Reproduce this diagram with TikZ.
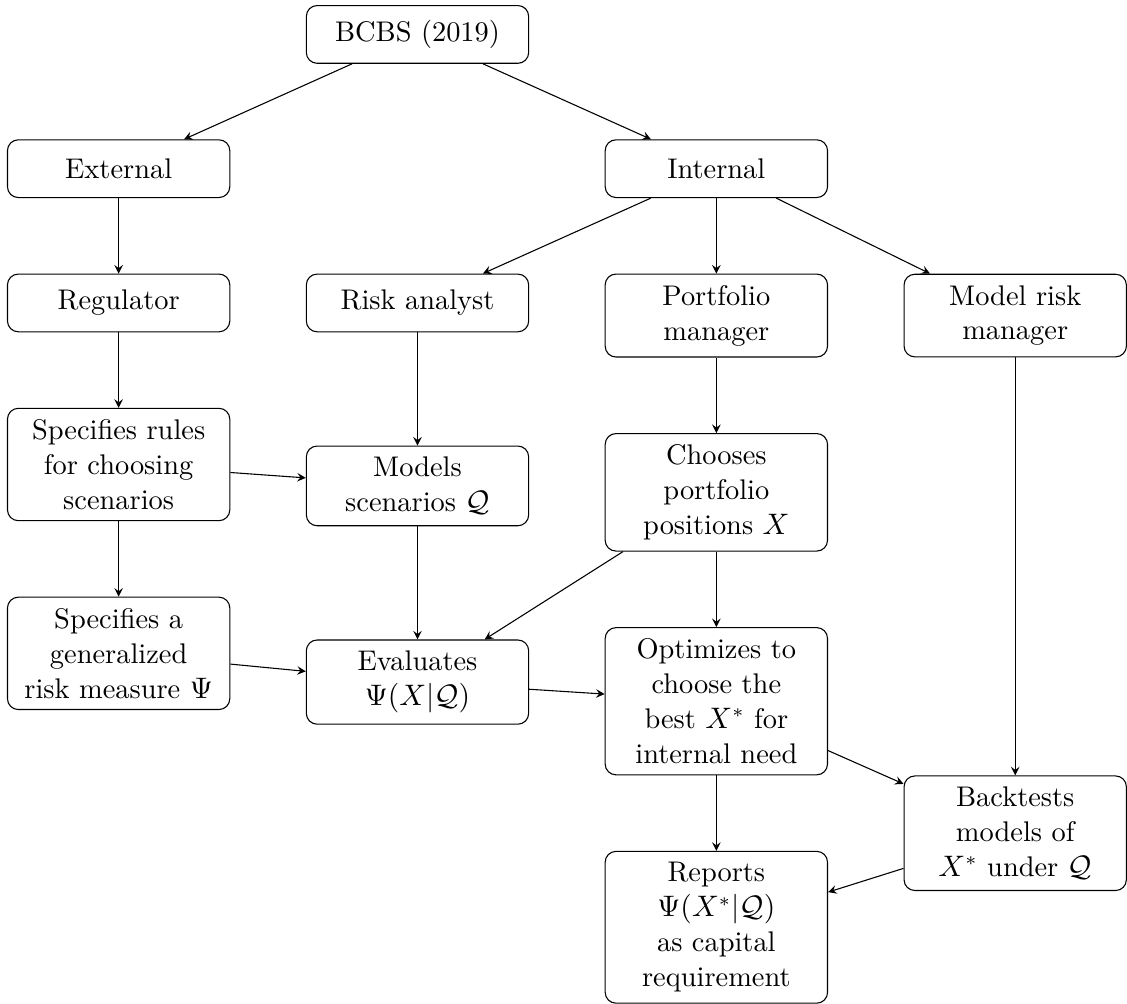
\documentclass[tikz,border=0pt]{standalone}
\usepackage{tikz}
\usetikzlibrary{calc,positioning,arrows}

\begin{document}
\begin{tikzpicture}[node distance=0.98cm, >=stealth,
		box/.style={draw, rounded corners, align=center, text width=2.6cm, inner sep=4.1pt, minimum height=0.75cm, font=\fontsize{10.5}{12.9}\selectfont}]
		%%%%% START %%%%%
		\node[box] (regulator) {Regulator};
		\node[box, right=of regulator] (analyst) {Risk analyst};
		\node[box, right=of analyst.north east, anchor=north west] (portfolio) {Portfolio\\manager};
		\node[box, right=of portfolio] (modelrisk) {Model risk\\manager};
		
		\node[box, above=of regulator] (external) {External};
		\node[box, above=of portfolio] (internal) {Internal};
		\node[box, anchor=south] (bcbs) at ($(analyst |- external.north)+(0,0.98)$) {BCBS (2019)};
		
		\node[box, below=of regulator] (rules) {Specifies rules\\for choosing\\scenarios};
		\node[box, below=1.47cm of analyst] (models) {Models\\scenarios $\mathcal{Q}$};
		\node[box, below=of portfolio] (chooses) {Chooses\\portfolio\\positions $X$};
		
		\node[box, below=of rules] (measure) {Specifies a\\generalized\\risk measure $\Psi$};
		\node[box, below=1.47cm of models] (evaluates) {Evaluates\\$\Psi(X|\mathcal{Q})$};
		\node[box, below=of chooses] (optimizes) {Optimizes to\\choose the\\best $X^*$ for\\internal need};
		\node[box, below=of optimizes] (reports) {Reports\\$\Psi(X^*|\mathcal{Q})$\\as capital\\requirement};
		\node[box, anchor=north] (backtests) at (modelrisk |- optimizes.south) {Backtests\\models of\\$X^*$ under $\mathcal{Q}$};
		
		\draw[->] (bcbs) -- (external);
		\draw[->] (bcbs) -- (internal);
		\draw[->] (external) -- (regulator);
		\draw[->] (internal) -- (analyst);
		\draw[->] (internal) -- (portfolio);
		\draw[->] (internal) -- (modelrisk);
		
		\draw[->] (regulator) -- (rules);
		\draw[->] (rules) -- (measure);
		\draw[->] (rules) -- (models);
		\draw[->] (analyst) -- (models);
		\draw[->] (portfolio) -- (chooses);
		\draw[->] (modelrisk) -- (backtests);
		
		\draw[->] (models) -- (evaluates);
		\draw[->] (measure) -- (evaluates);
		\draw[->] (chooses) -- (evaluates);
		\draw[->] (chooses) -- (optimizes);
		\draw[->] (evaluates) -- (optimizes);
		\draw[->] (optimizes) -- (backtests);
		\draw[->] (optimizes) -- (reports);
		\draw[->] (backtests) -- (reports);
		
		\pgfresetboundingbox
		\useasboundingbox ($(external.west |- bcbs.north)+(-0.09,0.065)$) rectangle ++(14.64,-13.04);
		%%%%% END %%%%%
	\end{tikzpicture}
\end{document}
